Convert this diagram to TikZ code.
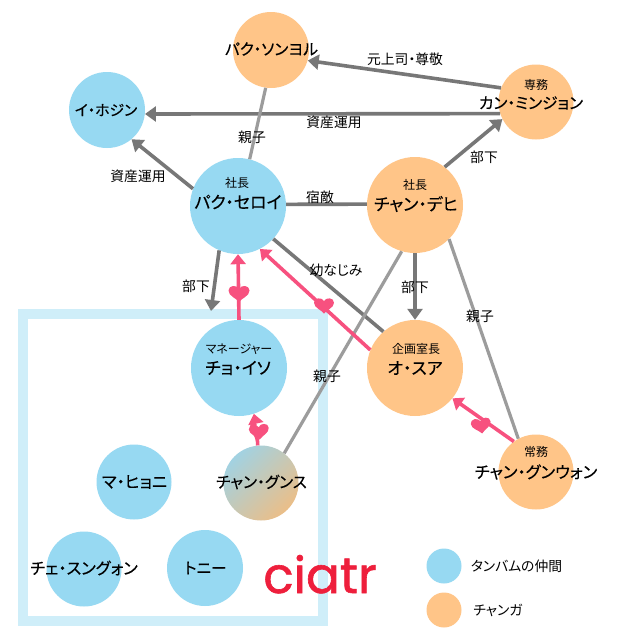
\documentclass[tikz,border=0pt]{standalone}
\usepackage{fontspec}
\setmainfont[RawFeature=+palt]{Noto Sans CJK JP}
\newfontfamily\medfont[RawFeature=+palt,FakeBold=0.2]{Noto Sans CJK JP}
\newfontfamily\logofont[FakeBold=1.2]{Poppins}
\usetikzlibrary{arrows.meta}
\definecolor{tblue}{HTML}{97D9F2}
\definecolor{torange}{HTML}{FFC588}
\definecolor{frameblue}{HTML}{CFEEF9}
\definecolor{darkline}{HTML}{777777}
\definecolor{lightline}{HTML}{9C9C9C}
\definecolor{pinkline}{HTML}{F7517F}
\definecolor{logored}{HTML}{EE1F3C}
\definecolor{gradA}{HTML}{A2D2E2}
\definecolor{gradB}{HTML}{EBBE88}
\tikzset{
  x=1pt,y=-1pt,
  circ/.style={circle,draw=none,inner sep=0pt,minimum size=#1},
  bluec/.style={circ=#1,fill=tblue},
  orangec/.style={circ=#1,fill=torange},
  nm/.style={font=\medfont\fontsize{15.7}{16}\selectfont,inner sep=0pt,align=center,text=black},
  big/.style={font=\medfont\fontsize{17}{18}\selectfont,inner sep=0pt,align=center,text=black},
  ttl/.style={font=\fontsize{12}{13}\selectfont,inner sep=0pt,text=black},
  lab/.style={font=\fontsize{13.8}{14}\selectfont,inner sep=0pt,text=black},
  darkarr/.style={draw=darkline,line width=3.6pt,-{Triangle[length=11pt,width=15pt]}},
  darkedge/.style={draw=darkline,line width=3.6pt},
  lightedge/.style={draw=lightline,line width=3.2pt},
  pinkarr/.style={draw=pinkline,line width=3.6pt,-{Triangle[length=10pt,width=15pt]}},
  heart/.pic={\fill[pinkline] (0,9) .. controls (-3,5) and (-10.5,3) .. (-10.5,-2.5) .. controls (-10.5,-8) and (-2,-8.5) .. (0,-4) .. controls (2,-8.5) and (10.5,-8) .. (10.5,-2.5) .. controls (10.5,3) and (3,5) .. (0,9) -- cycle;},
}
\begin{document}
\begin{tikzpicture}
\useasboundingbox (0,0) rectangle (640,640);
\fill[white] (0,0) rectangle (640,640);
% frame
\draw[frameblue,line width=10pt] (23,314) rectangle (323,621);
% circles
\node[orangec=76pt] (sy) at (271,50) {};
\node[orangec=75pt] (km) at (536,102) {};
\node[bluec=76pt] (ih) at (107,110) {};
\node[bluec=96pt] (ps) at (238,206) {};
\node[orangec=96pt] (cd) at (415,205) {};
\node[bluec=96pt] (ci) at (239,368) {};
\node[orangec=96pt] (os) at (415,368) {};
\node[circ=75pt,left color=gradA,right color=gradB,shading angle=45] (cg) at (261,483) {};
\node[orangec=75pt] (cw) at (536,472) {};
\node[bluec=75pt] (mh) at (134,482) {};
\node[bluec=75pt] (cs) at (84,569) {};
\node[bluec=76pt] (tn) at (205,568) {};
\node[bluec=35pt] (lb) at (444,566) {};
\node[orangec=35pt] (lo) at (444,610) {};
% free end
\coordinate (subend) at (211,311);
% connectors
\draw[darkarr] (km.158) -- (sy.-16);
\draw[darkarr] (km.198) -- (ih.-6);
\draw[darkarr] (cd.52) -- (km.207);
\draw[darkarr] (ps.159) -- (ih.-50);
\draw[darkedge] (ps.2) -- (cd.179);
\draw[lightedge] (sy.-98) -- (ps.76);
\draw[darkarr] (ps.-113) -- (subend);
\draw[darkarr] (cd.-90) -- (os.90);
\draw[darkedge] (ps.-43) -- (os.131);
\draw[lightedge] (cd.-106) -- (cg.52);
\draw[lightedge] (cd.-45) -- (cw.118);
\draw[pinkarr] (ci.90) -- (ps.-90);
\draw[pinkarr] (os.158) -- (ps.-63);
\draw[pinkarr] (cw.126) -- (os.-39);
\draw[pinkarr] (cg.95) .. controls (258,434) and (252,432) .. (252,426) .. controls (252,422) and (256,424) .. (ci.-72);
% hearts
\pic at (239,293) {heart};
\pic[scale=0.95] at (324,305) {heart};
\pic[scale=0.95,rotate=8] at (481,425) {heart};
\pic[scale=0.95,rotate=5] at (259,431) {heart};
% node text
\node[nm] (tsy) at (271.5,49) {パク・ソンヨル};
\node[ttl] (tkm1) at (536,85) {専務};
\node[big,font=\medfont\fontsize{15.7}{18}\selectfont] (tkm2) at (531,103) {カン・ミンジョン};
\node[nm,font=\medfont\fontsize{14.8}{16}\selectfont] (tih) at (106,110) {イ・ホジン};
\node[ttl] (tps1) at (237,183) {社長};
\node[big] (tps2) at (238,202) {パク・セロイ};
\node[ttl] (tcd1) at (415,185) {社長};
\node[big] (tcd2) at (416,204) {チャン・デヒ};
\node[ttl] (tci1) at (239,349) {マネージャー};
\node[big] (tci2) at (238,368) {チョ・イソ};
\node[ttl] (tos1) at (416,349) {企画室長};
\node[big] (tos2) at (415,368) {オ・スア};
\node[nm] (tcg) at (261.5,482) {チャン・グンス};
\node[ttl] (tcw1) at (536,452) {常務};
\node[nm,font=\medfont\fontsize{16.4}{16}\selectfont] (tcw2) at (536,472) {チャン・グンウォン};
\node[nm,font=\medfont\fontsize{16.5}{16}\selectfont] (tmh) at (134.5,482) {マ・ヒョニ};
\node[nm,font=\medfont\fontsize{16.3}{16}\selectfont] (tcs) at (84,568) {チェ・スングォン};
\node[nm] (ttn) at (205.5,568) {トニー};
\node[lab] (tlb) at (516.5,566) {タンバムの仲間};
\node[lab] (tlo) at (498,610) {チャンガ};
% edge labels
\node[lab] at (405,59) {元上司・尊敬};
\node[lab] at (334,122) {資産運用};
\node[lab] at (484,157) {部下};
\node[lab] at (138,176) {資産運用};
\node[lab] at (320,197) {宿敵};
\node[lab] at (252,137) {親子};
\node[lab] at (196,286) {部下};
\node[lab] at (336,270) {幼なじみ};
\node[lab] at (415,287) {部下};
\node[lab] at (480,316) {親子};
\node[lab] at (327,376) {親子};
\node[font=\logofont\fontsize{50}{50}\selectfont,text=logored,inner sep=0pt,anchor=base] (logo) at (320,593) {ciatr};
\end{tikzpicture}
\end{document}
